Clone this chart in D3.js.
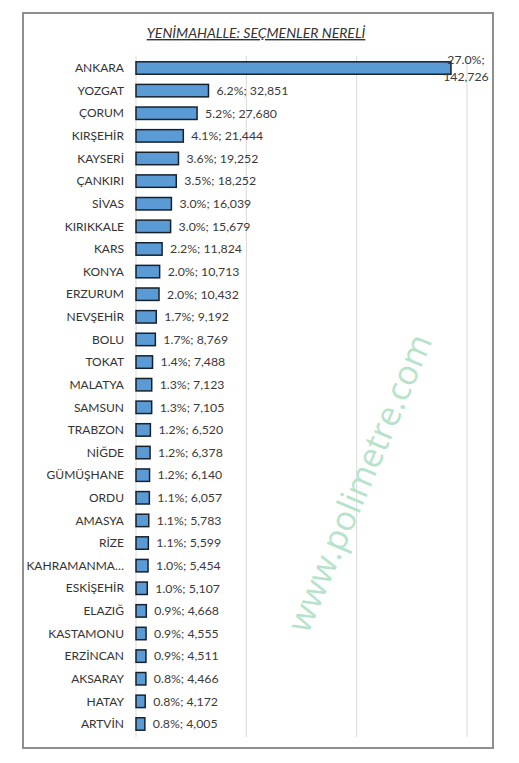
<!DOCTYPE html>
<html><head><meta charset="utf-8">
<script src="https://cdn.jsdelivr.net/npm/d3@7"></script>
<style>body{margin:0;background:#fff}</style>
</head><body>
<script>
const categories = ["ANKARA","YOZGAT","ÇORUM","KIRŞEHİR","KAYSERİ","ÇANKIRI","SİVAS","KIRIKKALE","KARS","KONYA","ERZURUM","NEVŞEHİR","BOLU","TOKAT","MALATYA","SAMSUN","TRABZON","NİĞDE","GÜMÜŞHANE","ORDU","AMASYA","RİZE","KAHRAMANMA…","ESKİŞEHİR","ELAZIĞ","KASTAMONU","ERZİNCAN","AKSARAY","HATAY","ARTVİN"];
const voters = [142726,32851,27680,21444,19252,18252,16039,15679,11824,10713,10432,9192,8769,7488,7123,7105,6520,6378,6140,6057,5783,5599,5454,5107,4668,4555,4511,4466,4172,4005];
const shares = [27.0,6.2,5.2,4.1,3.6,3.5,3.0,3.0,2.2,2.0,2.0,1.7,1.7,1.4,1.3,1.3,1.2,1.2,1.2,1.1,1.1,1.1,1.0,1.0,0.9,0.9,0.9,0.8,0.8,0.8];
const gridTicks = [0,50000,100000,150000];
const title = "YENİMAHALLE: SEÇMENLER NERELİ";
const watermark = "www.polimetre.com";

const W = 519, H = 763;
const font = "Lato, 'Open Sans', sans-serif";
const svg = d3.select("body").append("svg").attr("width", W).attr("height", H);

svg.append("rect").attr("x",23).attr("y",13).attr("width",470).attr("height",735)
  .attr("fill","#fff").attr("stroke","#8f8f8f").attr("stroke-width",2);

const x = d3.scaleLinear().domain([0,150000]).range([136,467]);
const y = d3.scaleBand().domain(categories).range([56.7,735.3]).paddingInner(0.45).paddingOuter(0.225);

// gridlines
svg.append("g").selectAll("line").data(gridTicks).join("line")
  .attr("x1",d=>x(d)).attr("x2",d=>x(d)).attr("y1",56).attr("y2",737)
  .attr("stroke","#d9d9d9").attr("stroke-width",1);

// watermark
svg.append("text").attr("transform","translate(362,484) rotate(-67)")
  .attr("text-anchor","middle").attr("dominant-baseline","middle")
  .attr("font-family","'Open Sans', sans-serif").attr("font-size",34)
  .attr("fill","#b6e3ca").text(watermark);

// bars
const data = categories.map((c,i)=>({c, v:voters[i], s:shares[i]}));
svg.append("g").selectAll("rect").data(data).join("rect")
  .attr("x",x(0)).attr("y",d=>y(d.c)).attr("width",d=>x(d.v)-x(0)).attr("height",y.bandwidth())
  .attr("fill","#5b9bd5").attr("stroke","#17212c").attr("stroke-width",1.5);

// category labels
svg.append("g").selectAll("text").data(data).join("text")
  .attr("x",124).attr("y",d=>y(d.c)+y.bandwidth()/2).attr("dy","0.35em")
  .attr("text-anchor","end").attr("font-family",font).attr("font-size",12)
  .attr("fill","#333").text(d=>d.c);

// value labels
const fmt = d3.format(",");
const labels = svg.append("g");
data.forEach((d,i)=>{
  const txt = d.s.toFixed(1)+"%; "+fmt(d.v);
  const cy = y(d.c)+y.bandwidth()/2;
  if (i===0) {
    const t = labels.append("text").attr("text-anchor","middle").attr("font-family",font)
      .attr("font-size",12.3).attr("fill","#3a3a3a");
    t.append("tspan").attr("x",x(d.v)+15).attr("y",cy-4).text(d.s.toFixed(1)+"%;");
    t.append("tspan").attr("x",x(d.v)+15).attr("y",cy+13).text(fmt(d.v));
  } else {
    labels.append("text").attr("x",x(d.v)+8).attr("y",cy).attr("dy","0.35em")
      .attr("font-family",font).attr("font-size",12.3).attr("fill","#3a3a3a").text(txt);
  }
});

// title
svg.append("text").attr("x",256).attr("y",38).attr("text-anchor","middle")
  .attr("font-family",font).attr("font-size",14).attr("font-style","italic")
  .attr("text-decoration","underline").attr("fill","#333").text(title);
</script>
</body></html>
